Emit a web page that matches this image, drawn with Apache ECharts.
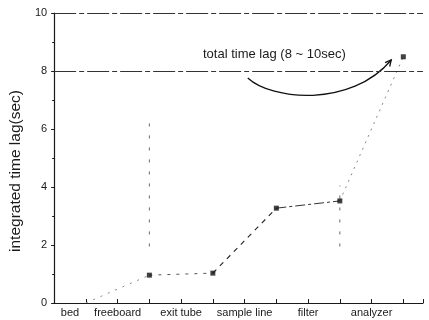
<!DOCTYPE html>
<html>
<head>
<meta charset="utf-8">
<script src="https://cdn.jsdelivr.net/npm/echarts@6/dist/echarts.min.js"></script>
<style>
  html, body { margin: 0; background: #fff; }
  #chart { width: 429px; height: 320px; }
</style>
</head>
<body>
<div id="chart"></div>
<script>
// stages along the sampling train and the time lag read at each one
const categories = ['bed', 'freeboard', 'exit tube', 'sample line', 'filter', 'analyzer'];
const stageX = [0, 1, 2, 3, 4, 5];
const lagValues = [0, 0.96, 1.03, 3.27, 3.52, 8.49];
// where the stage names sit under the axis (between the ticks)
const labelX = [-0.25, 0.5, 1.5, 2.5, 3.5, 4.5];
// faint vertical spread marks
const spreadFreeboard = [1.95, 6.2];
const spreadFilter = [1.95, 4.05];
// reference lines
const refLines = [8, 10];
// "total time lag" arc: start, two control points, end (data coords)
const arcPath = [[2.55, 7.76], [2.92, 7.0], [4.17, 6.72], [4.81, 8.38]];

const font = 'Liberation Sans, Arial, sans-serif';
const ink = '#1a1a1a';

const chart = echarts.init(document.getElementById('chart'));

function nameAt(v) {
  const i = labelX.findIndex(t => Math.abs(t - v) < 1e-6);
  return i < 0 ? '' : categories[i];
}

// each leg of the scanned line has its own dash look
const segStyles = [
  { type: [2, 6], color: '#888', width: 1 },
  { type: [3, 6], color: '#555', width: 1 },
  { type: [5, 5], color: '#222', width: 1.1 },
  { type: [10, 3, 3, 3], color: '#333', width: 1 },
  { type: [2, 5], color: '#888', width: 1 }
];
const segments = segStyles.map((st, i) => ({
  type: 'line',
  silent: true,
  symbol: 'none',
  lineStyle: st,
  data: [[stageX[i], lagValues[i]], [stageX[i + 1], lagValues[i + 1]]],
  z: 2
}));

chart.setOption({
  animation: false,
  grid: { left: 52, right: 6, top: 13, bottom: 17 },
  xAxis: [{
    type: 'value',
    min: -0.5,
    max: 5.31,
    interval: 0.5,
    axisLine: { onZero: false, lineStyle: { color: ink, width: 1.2 } },
    axisTick: { inside: true, length: 4, lineStyle: { color: ink } },
    axisLabel: { show: false },
    splitLine: { show: false }
  }, {
    type: 'value',
    min: -0.5,
    max: 5.31,
    interval: 0.25,
    position: 'bottom',
    axisLine: { show: false, onZero: false },
    axisTick: { show: false },
    splitLine: { show: false },
    axisLabel: {
      margin: 4,
      color: ink,
      fontFamily: font,
      fontSize: 11,
      showMinLabel: false,
      showMaxLabel: false,
      formatter: v => nameAt(v)
    }
  }],
  yAxis: {
    type: 'value',
    min: 0,
    max: 10,
    interval: 2,
    name: 'integrated time lag(sec)',
    nameLocation: 'middle',
    nameRotate: 90,
    nameGap: 30,
    nameTextStyle: { color: ink, fontFamily: font, fontSize: 15.5, padding: [0, 26, 0, 0] },
    axisLine: { show: true, onZero: false, lineStyle: { color: ink, width: 1.2 } },
    axisTick: { show: true, length: 3, lineStyle: { color: ink } },
    minorTick: { show: true, splitNumber: 2, length: 2, lineStyle: { color: ink } },
    axisLabel: { color: ink, fontFamily: font, fontSize: 11, margin: 7 },
    splitLine: { show: false }
  },
  series: segments.concat([
    {
      type: 'line',
      silent: true,
      symbol: 'none',
      lineStyle: { type: [3, 9], color: '#666', width: 1 },
      data: spreadFreeboard.map(v => [stageX[1], v])
    },
    {
      type: 'line',
      silent: true,
      symbol: 'none',
      lineStyle: { type: [3, 9], color: '#666', width: 1 },
      data: spreadFilter.map(v => [stageX[4], v])
    },
    {
      type: 'scatter',
      silent: true,
      symbol: 'rect',
      symbolSize: 5,
      itemStyle: { color: '#111' },
      data: stageX.map((x, i) => i === 0 ? { value: [x, lagValues[i]], symbolSize: 0 } : [x, lagValues[i]]),
      markLine: {
        silent: true,
        symbol: 'none',
        label: { show: false },
        lineStyle: { color: '#333', width: 1, type: [22, 3, 5, 3] },
        data: refLines.map(v => ({ yAxis: v }))
      },
      z: 5
    }
  ])
});

// the curved arrow is placed from data coords once the grid exists
const p = arcPath.map(c => chart.convertToPixel({ gridIndex: 0 }, c));
const dx = p[3][0] - p[2][0], dy = p[3][1] - p[2][1];
const len = Math.hypot(dx, dy), ux = dx / len, uy = dy / len;
const head = 6;
chart.setOption({
  graphic: [{
    type: 'bezierCurve',
    silent: true,
    shape: {
      x1: p[0][0], y1: p[0][1],
      cpx1: p[1][0], cpy1: p[1][1],
      cpx2: p[2][0], cpy2: p[2][1],
      x2: p[3][0], y2: p[3][1]
    },
    style: { stroke: '#111', lineWidth: 1.3, fill: null }
  }, {
    type: 'polyline',
    silent: true,
    shape: {
      points: [
        [p[3][0] - head * (ux + uy * 0.5), p[3][1] - head * (uy - ux * 0.5)],
        p[3],
        [p[3][0] - head * (ux - uy * 0.5), p[3][1] - head * (uy + ux * 0.5)]
      ]
    },
    style: { stroke: '#111', lineWidth: 1.3, fill: null }
  }, {
    type: 'text',
    left: 203,
    top: 48,
    style: { text: 'total time lag (8 ~ 10sec)', font: '13px ' + font, fill: ink }
  }]
});
</script>
</body>
</html>
